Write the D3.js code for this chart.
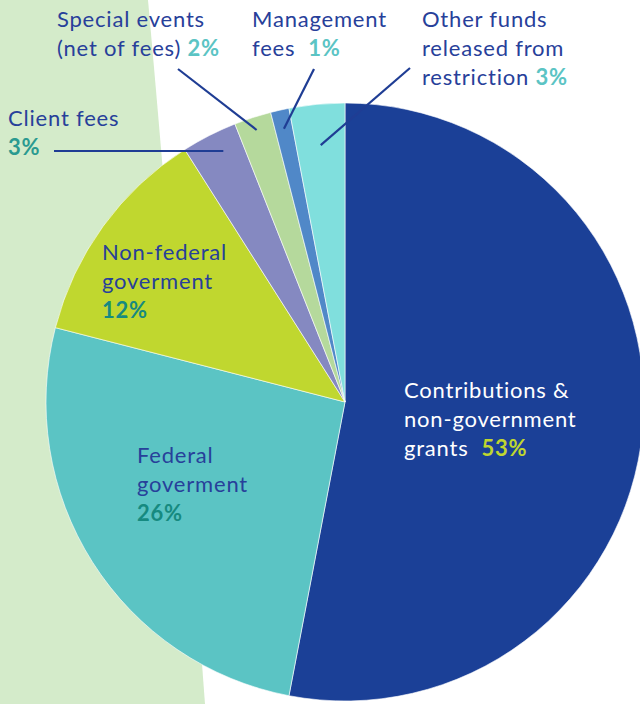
<!DOCTYPE html>
<html>
<head>
<meta charset="utf-8">
<script src="https://cdn.jsdelivr.net/npm/d3@7"></script>
<style>
  body { margin: 0; background: #fff; }
  svg { display: block; font-family: Lato, "Open Sans", sans-serif; }
  text { white-space: pre; }
</style>
</head>
<body>
<div id="container"></div>
<script>
/* DATA */
const categories = ["Contributions & non-government grants", "Federal goverment", "Non-federal goverment",
  "Client fees", "Special events (net of fees)", "Management fees", "Other funds released from restriction"];
const values = [53, 26, 12, 3, 2, 1, 3];
const sliceColors = ["#1b4097", "#5bc4c4", "#c0d72f", "#8589c1", "#b5d99c", "#5088c8", "#80dfdd"];

/* CONSTANTS */
const width = 640, height = 704,
  cx = 345, cy = 402, radius = 299;

const textBlue = "#27409a", darkTeal = "#168a80", lightTeal = "#5bc4c4";

const svg = d3.select("#container")
  .append("svg")
  .attr("width", width)
  .attr("height", height);

// light green background band on the left
svg.append("path")
  .attr("d", `M0,0 L148,0 Q175,300 205,${height} L0,${height} Z`)
  .attr("fill", "#d4ebca");

const pie = d3.pie().sort(null).value(d => d)(values);
const arc = d3.arc().innerRadius(0).outerRadius(radius);

const g = svg.append("g").attr("transform", `translate(${cx},${cy})`);

g.selectAll("path.slice")
  .data(pie)
  .join("path")
  .attr("class", "slice")
  .attr("d", arc)
  .attr("fill", (d, i) => sliceColors[i])
  .attr("stroke", "#fff")
  .attr("stroke-width", 0.6);

// label text blocks: each line is [text, color, percent, percentColor]
const labels = [
  { i: 0, x: 404, y: 398, color: "#fff", lines: [["Contributions &"], ["non-government"], ["grants  ", null, "53%", "#c0d72f"]] },
  { i: 1, x: 137, y: 463, lines: [["Federal"], ["goverment"], [null, null, "26%", darkTeal]] },
  { i: 2, x: 102, y: 260, lines: [["Non-federal"], ["goverment"], [null, null, "12%", darkTeal]] },
  { i: 3, x: 8, y: 126, lines: [["Client fees"], [null, null, "3%", "#2a9a90"]], pointer: { r: 268, horiz: true, from: [54, 151] } },
  { i: 4, x: 57, y: 27, lines: [["Special events"], ["(net of fees) ", null, "2%", lightTeal]], pointer: { r: 286, from: [178, 69] } },
  { i: 5, x: 252, y: 27, lines: [["Management"], ["fees  ", null, "1%", lightTeal]], pointer: { r: 280, from: [314, 69] } },
  { i: 6, x: 422, y: 27, lines: [["Other funds"], ["released from"], ["restriction ", null, "3%", lightTeal]], pointer: { r: 258, from: [410, 68] } }
];

const lineH = 29;

labels.forEach(l => {
  const t = svg.append("text")
    .attr("x", l.x)
    .attr("y", l.y)
    .attr("font-size", 22)
    .attr("letter-spacing", 0.8)
    .attr("fill", l.color || textBlue);
  l.lines.forEach((ln, k) => {
    const first = t.append("tspan").attr("x", l.x).attr("y", l.y + k * lineH);
    if (ln[0]) first.text(ln[0]);
    if (ln[2]) {
      (ln[0] ? t.append("tspan") : first)
        .attr("font-weight", 700)
        .attr("fill", ln[3])
        .text(ln[2]);
    }
  });

  // leader lines
  if (l.pointer) {
    const d = pie[l.i];
    const a = (d.startAngle + d.endAngle) / 2;
    let ex = cx + l.pointer.r * Math.sin(a),
      ey = cy - l.pointer.r * Math.cos(a);
    if (l.pointer.horiz) ey = l.pointer.from[1];
    svg.append("line")
      .attr("x1", l.pointer.from[0])
      .attr("y1", l.pointer.from[1])
      .attr("x2", ex)
      .attr("y2", ey)
      .attr("stroke", "#1f3d94")
      .attr("stroke-width", 2.2);
  }
});
</script>
</body>
</html>
